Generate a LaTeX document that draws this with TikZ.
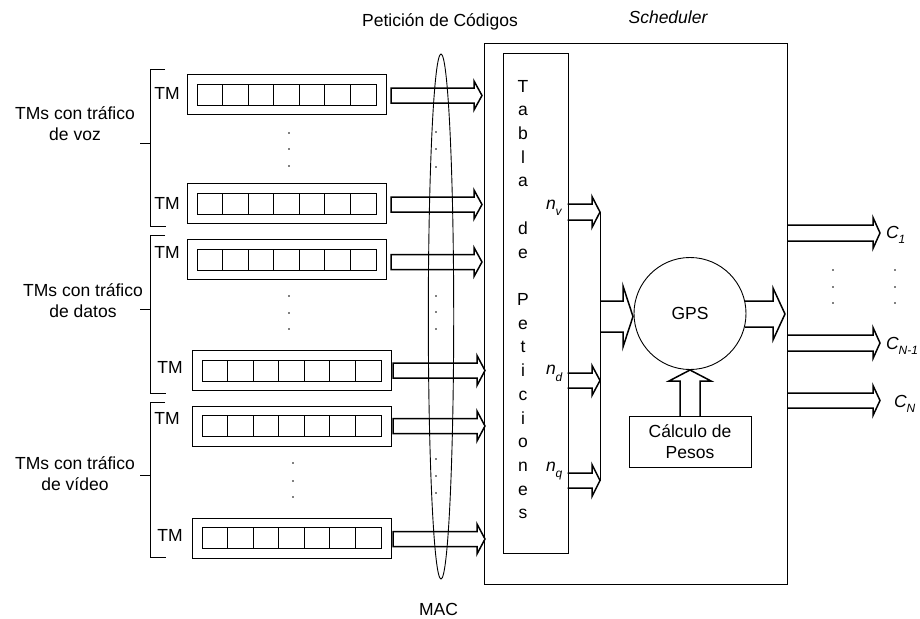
\documentclass[tikz,border=0pt]{standalone}
\usepackage{fontspec}
\setmainfont{Liberation Sans}
\usetikzlibrary{calc,shapes.geometric}
\newcommand\subf{\fontsize{12}{12}\selectfont\itshape}
% open hollow right arrow: x start, x tip, y centre, shaft half, head half, head length
\newcommand\hollowR[6]{%
  \draw[blk] (#1,{#3-#4}) -- ({#2-#6},{#3-#4}) -- ({#2-#6},{#3-#5}) -- (#2,#3)
    -- ({#2-#6},{#3+#5}) -- ({#2-#6},{#3+#4}) -- (#1,{#3+#4});}
\newcommand\hollowRc[6]{%
  \draw[blk] (#1,{#3-#4}) -- ({#2-#6},{#3-#4}) -- ({#2-#6},{#3-#5}) -- (#2,#3)
    -- ({#2-#6},{#3+#5}) -- ({#2-#6},{#3+#4}) -- (#1,{#3+#4}) -- cycle;}
% queue: name, left x, centre y
\newcommand\queue[3]{%
  \node[qout] (#1) at ({#2+99.5},#3) {};
  \node[qin] (#1-in) at (#1.center) {};
  \foreach \k in {1,...,6}
    \draw[thinl] ($(#1-in.north west)!\k/7!(#1-in.north east)$) -- ($(#1-in.south west)!\k/7!(#1-in.south east)$);}
\begin{document}
\begin{tikzpicture}[x=1pt,y=-1pt,
  font=\fontsize{17.5}{21}\selectfont,
  every node/.style={inner sep=0pt, outer sep=0pt},
  thinl/.style={line width=0.9pt},
  blk/.style={line width=1.5pt, line join=miter},
  qout/.style={draw, thinl, minimum width=199pt, minimum height=40pt},
  qin/.style={draw, thinl, minimum width=179pt, minimum height=21pt},
  txt/.style={anchor=base},
  dotm/.style={fill=black}]
\useasboundingbox (0,0) rectangle (920,618);

% top / bottom labels
\node[txt] (pet) at (440,26.7) {Petición de Códigos};
\node[txt] (sch) at (668,24) {\itshape Scheduler};
\node[txt] (mac) at (438.5,615) {MAC};

% group labels
\node[txt] (g1a) at (75,119.5) {TMs con tráfico};
\node[txt] (g1b) at (75,140.5) {de voz};
\node[txt] (g2a) at (83,296) {TMs con tráfico};
\node[txt] (g2b) at (83,317) {de datos};
\node[txt] (g3a) at (75,469) {TMs con tráfico};
\node[txt] (g3b) at (75,490) {de vídeo};

% brackets
\draw[thinl] (165,69) -- (150,69) -- (150,226) -- (166,226);
\draw[thinl] (140,143) -- (150,143);
\draw[thinl] (165,235) -- (150,235) -- (150,393) -- (166,393);
\draw[thinl] (140,309) -- (150,309);
\draw[thinl] (165,402) -- (150,402) -- (150,557) -- (166,557);
\draw[thinl] (140,475) -- (150,475);

% queues
\queue{q1}{187}{94.5}
\queue{q2}{187}{203.5}
\queue{q3}{187}{259.5}
\queue{q4}{192}{370.5}
\queue{q5}{192}{426}
\queue{q6}{192}{538}

\node[txt] (tm1) at (167,99) {TM};
\node[txt] (tm2) at (167,209) {TM};
\node[txt] (tm3) at (167,258) {TM};
\node[txt] (tm4) at (170,373) {TM};
\node[txt] (tm5) at (167,424) {TM};
\node[txt] (tm6) at (170,541) {TM};

% dots
\foreach \x/\y in {289/133,289/149,289/166,289/296,289/313,289/329,293/463,293/481,293/497,
                   436/132,436/149,436/167,436/296,436/312,436/329,436/459,436/476,436/493,
                   833/270,833/287,833/303,895/270,895/287,895/303}
  \fill[dotm] (\x,\y) circle (0.9pt);

% MAC ellipse
\node[draw, thinl, ellipse, minimum width=25.4pt, minimum height=525pt] (macell) at (441,316.5) {};

% queue arrows
\hollowRc{391}{482}{95.5}{7.5}{14.5}{8}
\hollowRc{391}{482}{204.5}{7.5}{14.5}{8}
\hollowRc{391}{482}{262}{7.5}{14.5}{8}
\hollowRc{393}{485}{370.5}{7.5}{15}{8}
\hollowRc{393}{485}{426}{7.5}{15}{8}
\hollowRc{393}{485}{539}{7.5}{15}{8}

% scheduler box
\node[draw, thinl, minimum width=303pt, minimum height=541pt] (sched) at (635.5,313.5) {};
% tabla de peticiones
\node[draw, thinl, minimum width=65pt, minimum height=500pt] (tabla) at (535.5,303) {};
\foreach \c [count=\i from 0] in {T,a,b,l,a,{},d,e,{},P,e,t,i,c,i,o,n,e,s}
  \node[txt] (tl\i) at (523,{92+23.72*\i}) {\c};

% n labels
\node[anchor=base west] (nv) at (546,209) {\itshape n\raisebox{-6pt}{\subf v}};
\node[anchor=base west] (nd) at (546,374) {\itshape n\raisebox{-7pt}{\subf d}};
\node[anchor=base west] (nq) at (546,471) {\itshape n\raisebox{-6pt}{\subf q}};

% n arrows
\hollowR{567.5}{600}{212}{8}{15.5}{8}
\hollowR{567.5}{600}{380.5}{7.5}{15}{8}
\hollowR{567.5}{600}{480.5}{7.5}{16}{8}
\coordinate (vtop) at (600,212);
\coordinate (vbot) at (600,480.5);
\draw[thinl] (vtop) -- (vbot);

% GPS
\node[draw, thinl, circle, minimum size=112pt] (gps) at (690,313.5) {GPS};
\hollowR{600}{633}{316.5}{15.5}{30.5}{10}
\hollowR{745}{785}{314}{13}{26}{12}

% Calculo de pesos
\node[draw, thinl, minimum width=122pt, minimum height=51pt, align=center] (calc) at (690,441.5) {Cálculo de\\Pesos};
\draw[blk] (680,416) -- (680,381) -- (669,381) -- (690,370) -- (711,381) -- (700,381) -- (700,416);

% output arrows
\hollowR{788}{880}{233}{8}{15.5}{7}
\hollowR{788}{880}{343}{8}{15.5}{7}
\hollowR{788}{880}{400.5}{7.5}{15}{7}
\node[anchor=base west] (c1) at (886,238) {\itshape C\raisebox{-5pt}{\subf 1}};
\node[anchor=base west] (cn1) at (886,349) {\itshape C\raisebox{-5pt}{\subf N-1}};
\node[anchor=base west] (cn) at (894,407) {\itshape C\raisebox{-5pt}{\subf N}};
\end{tikzpicture}
\end{document}
